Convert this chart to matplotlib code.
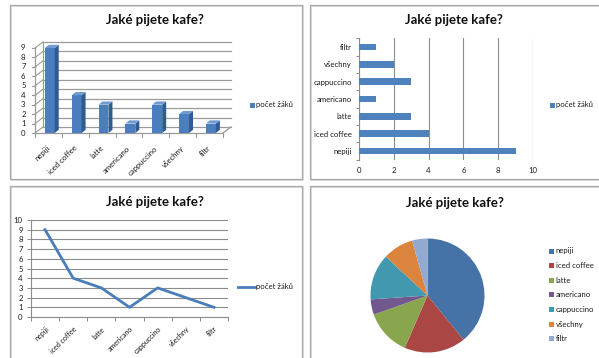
import matplotlib
matplotlib.use("Agg")
import matplotlib.pyplot as plt
from matplotlib.patches import Rectangle, Polygon
from matplotlib.lines import Line2D
from matplotlib.ticker import FixedLocator

# ---- data ----
categories = ["nepiji", "iced coffee", "latte", "americano", "cappuccino", "všechny", "filtr"]
values = [9, 4, 3, 1, 3, 2, 1]
series_name = "počet žáků"
title = "Jaké pijete kafe?"
y_ticks_bar3d = list(range(0, 10))
y_ticks_line = list(range(0, 11))
x_ticks_hbar = [0, 2, 4, 6, 8, 10]
pie_colors = ["#4572A7", "#AA4643", "#89A54E", "#71588F", "#4198AF", "#DB843D", "#93A9CF"]

W, H = 599, 358
FONT = "Lato"
TXT = "#1a1a1a"
GRID = "#8c8c8c"
BLUE = "#4A7EBB"

plt.rcParams["font.family"] = [FONT, "DejaVu Sans"]
fig = plt.figure(figsize=(W / 100, H / 100), dpi=100)
fig.patch.set_facecolor("white")


def px_axes(x0, y0, x1, y1, **kw):
    """axes from pixel box (top-left origin)"""
    return fig.add_axes([x0 / W, 1 - y1 / H, (x1 - x0) / W, (y1 - y0) / H], **kw)


# overlay pixel axes for frames, titles, legends
ov = fig.add_axes([0, 0, 1, 1], zorder=10)
ov.set_xlim(0, W)
ov.set_ylim(H, 0)
ov.axis("off")
ov.patch.set_alpha(0)

for (x0, y0, x1, y1) in [(10, 5, 302, 179), (310, 5, 620, 179), (10, 186, 302, 380), (310, 186, 620, 380)]:
    ov.add_patch(Rectangle((x0 + 1, y0 + 1), x1 - x0, y1 - y0, fill=False, ec="#d8d8d8", lw=1.2))
    ov.add_patch(Rectangle((x0, y0), x1 - x0, y1 - y0, fill=False, ec="#a8a8a8", lw=0.9))

for (cx, by) in [(155, 24.5), (454, 24.5), (155, 206.5), (455, 207)]:
    ov.text(cx, by, title, ha="center", va="baseline", fontsize=9.5, fontweight="bold", color="#111111")

SMALL = 5.6

# ---------------- Panel 1: pseudo-3D column chart ----------------
ax1 = px_axes(35, 48, 223, 133)
ax1.set_xlim(-0.5, 6.5)
ax1.set_ylim(0, 9)
ax1.axis("off")
ax1.patch.set_alpha(0)
dxw, dyw = 8 / 26.9, 6 / 9.45      # wall depth in data units
dxb, dyb = 4 / 26.9, 3.2 / 9.45    # bar depth
wall_c = "#9a9a9a"
for v in y_ticks_bar3d:
    ax1.plot([-0.5 + dxw, 6.5 + dxw], [v + dyw, v + dyw], color=wall_c, lw=0.9, clip_on=False)
    ax1.plot([-0.5, -0.5 + dxw], [v, v + dyw], color=wall_c, lw=0.8, clip_on=False)
    ax1.plot([-0.62, -0.5], [v, v], color=wall_c, lw=0.8, clip_on=False)
    ax1.text(-0.85, v, str(v), ha="right", va="center", fontsize=SMALL, color=TXT)
ax1.plot([-0.5 + dxw, -0.5 + dxw], [dyw, 9 + dyw], color=wall_c, lw=0.8, clip_on=False)
ax1.plot([-0.5, -0.5], [0, 9], color=wall_c, lw=0.9, clip_on=False)
ax1.plot([-0.5, 6.5], [0, 0], color=wall_c, lw=0.9, clip_on=False)
ax1.plot([6.5, 6.5 + dxw], [0, dyw], color=wall_c, lw=0.9, clip_on=False)
for b in range(8):
    ax1.plot([b - 0.5, b - 0.5], [0, -0.45], color=wall_c, lw=0.8, clip_on=False)

xs = [i + 0.05 for i in range(len(categories))]
bars = ax1.bar(xs, values, width=0.37, color="#4A7EBF", edgecolor="none", zorder=3, clip_on=False)
for r in bars:
    x0, w, h = r.get_x(), r.get_width(), r.get_height()
    side = Polygon([(x0 + w, 0), (x0 + w + dxb, dyb), (x0 + w + dxb, h + dyb), (x0 + w, h)],
                   closed=True, fc="#2E5B92", ec="none", zorder=3, clip_on=False)
    top = Polygon([(x0, h), (x0 + dxb, h + dyb), (x0 + w + dxb, h + dyb), (x0 + w, h)],
                  closed=True, fc="#6F9BD2", ec="none", zorder=3, clip_on=False)
    ax1.add_patch(side)
    ax1.add_patch(top)
for i, c in enumerate(categories):
    ax1.text(i - 0.08, -1.2, c, rotation=45, rotation_mode="anchor", ha="right", va="top",
             fontsize=SMALL, color=TXT)

# legend panel 1
ov.add_patch(Rectangle((249.5, 102.5), 5, 5, fc="#4A7EBF", ec="none"))
ov.text(256.5, 105, series_name, ha="left", va="center", fontsize=SMALL, color=TXT)

# ---------------- Panel 2: horizontal bars ----------------
ax2 = px_axes(359, 38.3, 533, 159.7)
ax2.barh(range(len(categories)), values, height=0.4, color="#4F81BD", zorder=3)
ax2.set_xlim(0, 10)
ax2.set_ylim(-0.5, 6.5)
ax2.set_xticks(x_ticks_hbar)
ax2.set_xticklabels([str(t) for t in x_ticks_hbar])
ax2.set_yticks(range(len(categories)))
ax2.set_yticklabels(categories)
ax2.yaxis.set_minor_locator(FixedLocator([i - 0.5 for i in range(8)]))
ax2.tick_params(axis="x", length=0, pad=5.5, labelsize=SMALL, labelcolor=TXT)
ax2.tick_params(axis="y", which="major", length=0, pad=5, labelsize=SMALL, labelcolor=TXT)
ax2.tick_params(axis="y", which="minor", length=2.5, width=0.7, color=GRID)
ax2.grid(axis="x", color=GRID, lw=0.8)
ax2.set_axisbelow(True)
for s in ["top", "right", "bottom"]:
    ax2.spines[s].set_visible(False)
ax2.spines["left"].set_color(GRID)
ax2.spines["left"].set_linewidth(0.8)
ax2.patch.set_alpha(0)

ov.add_patch(Rectangle((549.5, 102.5), 5, 5, fc="#4F81BD", ec="none"))
ov.text(556.5, 105, series_name, ha="left", va="center", fontsize=SMALL, color=TXT)

# ---------------- Panel 3: line chart ----------------
ax3 = px_axes(31, 220, 228, 317)
ax3.plot(range(len(categories)), values, color=BLUE, lw=2.0, zorder=3, solid_joinstyle="round")
ax3.set_xlim(-0.5, 6.5)
ax3.set_ylim(0, 10)
ax3.set_yticks(y_ticks_line)
ax3.grid(axis="y", color=GRID, lw=0.8)
ax3.set_axisbelow(True)
ax3.set_xticks(range(len(categories)))
ax3.set_xticklabels(categories, rotation=45, rotation_mode="anchor", ha="right", va="top")
ax3.xaxis.set_minor_locator(FixedLocator([i - 0.5 for i in range(8)]))
ax3.tick_params(axis="x", which="major", length=0, pad=6, labelsize=5.1, labelcolor=TXT)
ax3.tick_params(axis="x", which="minor", length=3, width=0.7, color=GRID)
ax3.tick_params(axis="y", length=3, width=0.7, color=GRID, pad=3, labelsize=SMALL, labelcolor=TXT)
for s in ["top", "right"]:
    ax3.spines[s].set_visible(False)
for s in ["left", "bottom"]:
    ax3.spines[s].set_color(GRID)
    ax3.spines[s].set_linewidth(0.8)
ax3.patch.set_alpha(0)

ov.add_line(Line2D([238, 255], [287, 287], color=BLUE, lw=2.0))
ov.text(256, 287, series_name, ha="left", va="center", fontsize=SMALL, color=TXT)

# ---------------- Panel 4: pie ----------------
cx, cy, r = 427.5, 295.5, 57
ax4 = px_axes(cx - r, cy - r, cx + r, cy + r)
ax4.pie(values, colors=pie_colors, startangle=90, counterclock=False,
        wedgeprops=dict(linewidth=0))
ax4.set_xlim(-1, 1)
ax4.set_ylim(-1, 1)
ax4.set_aspect("equal")

leg_y0, leg_dy = 251, 14.6
for i, (c, col) in enumerate(zip(categories, pie_colors)):
    yy = leg_y0 + i * leg_dy
    ov.add_patch(Rectangle((548.5, yy - 2.5), 5, 5, fc=col, ec="none"))
    ov.text(555.5, yy, c, ha="left", va="center", fontsize=SMALL, color=TXT)

fig.savefig("out.png", dpi=100, facecolor="white")
